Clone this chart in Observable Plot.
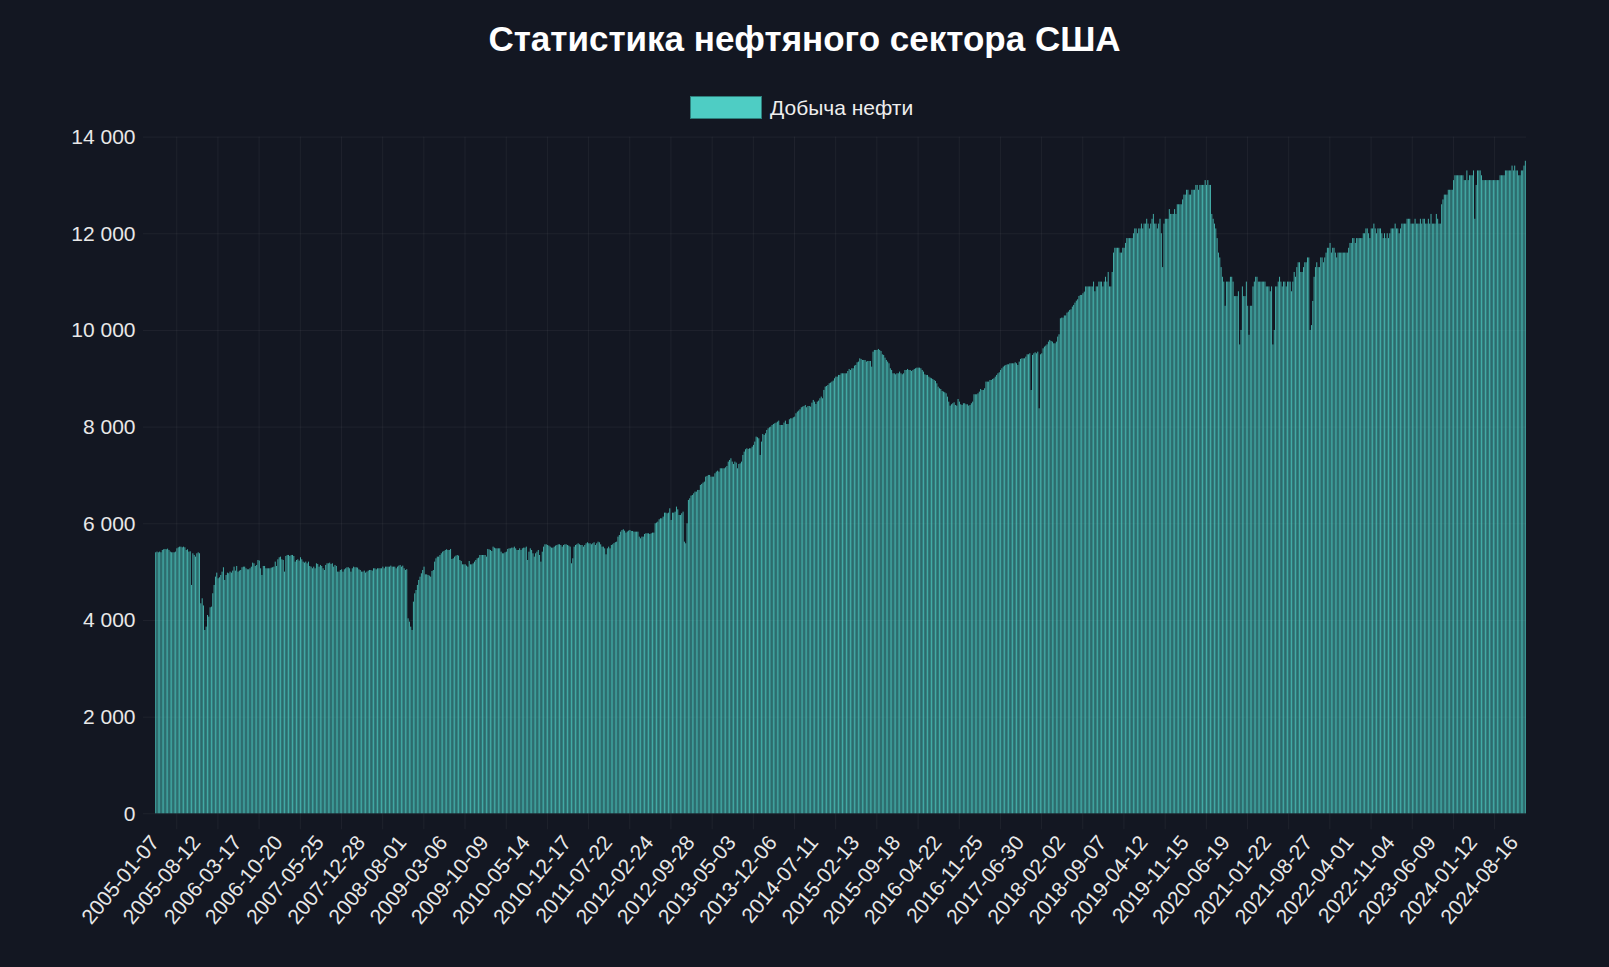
<!DOCTYPE html>
<html>
<head>
<meta charset="utf-8">
<script src="https://cdn.jsdelivr.net/npm/d3@7"></script>
<script src="https://cdn.jsdelivr.net/npm/@observablehq/plot@0.6"></script>
<style>
  html, body { margin: 0; padding: 0; background: #131722; }
  body { width: 1609px; height: 967px; overflow: hidden; font-family: "Liberation Sans", Arial, Helvetica, sans-serif; }
  #head { position: relative; height: 125px; }
  #title { position: absolute; left: 0; right: 0; top: 21px; text-align: center; font-size: 35px; line-height: 35px; font-weight: bold; color: #ffffff; }
  #legend { position: absolute; top: 96px; left: 690px; height: 23px; display: flex; align-items: center; }
  #legend .sw { width: 70px; height: 21px; background: #4ecdc4; border: 1px solid #2e7f7c; box-sizing: content-box; }
  #legend span { margin-left: 8px; font-size: 21px; color: #eeeeee; }
  #chart svg { display: block; }
</style>
</head>
<body>
<div id="head">
  <div id="title">Статистика нефтяного сектора США</div>
  <div id="legend"><div class="sw"></div><span>Добыча нефти</span></div>
</div>
<div id="chart"></div>
<script>
// Weekly US crude oil production (thousand barrels per day), weeks starting 2005-01-07
const startDate = "2005-01-07";
const seriesName = "Добыча нефти";

const prod2005 = [5400,5414,5400,5414,5400,5448,5462,5469,5462,5476,
5448,5414,5400,5400,5400,5414,5483,5503,5517,5517,
5503,5517,5503,5448,5462,5414,5420,4724,5379,5345,
5310,5379,5400,5380,4345,4448,4300,3793,3862,4103,
4069,4262,4276,4552,4724,4897,4979,4862,4883,4931,
5000,5090];
const prod2006 = [4828,4931,4979,4966,5000,4979,5021,5103,5021,5117,
5000,5021,5034,5090,5103,5103,5069,5048,5048,5069,
5103,5186,5172,5117,5138,5241,5228,5069,4931,5117,
5117,5069,5069,5069,5069,5083,5090,5103,5207,5117,
5255,5297,5310,5255,5241,5000,5324,5345,5345,5324,
5345,5345];
const prod2007 = [5324,5207,5241,5255,5228,5297,5255,5207,5186,5207,
5172,5207,5117,5103,5069,5103,5069,5172,5159,5103,
5138,5117,5069,5034,5138,5172,5172,5186,5159,5172,
5103,5138,5117,5000,5000,5034,5048,5000,5048,5069,
5090,5090,5069,5000,5069,5103,5090,5090,5083,5048,
5034,5000];
const prod2008 = [5000,5021,4979,5000,5021,5034,5034,5021,5069,5069,
5048,5069,5069,5069,5069,5103,5069,5103,5103,5103,
5103,5124,5103,5103,5103,5069,5103,5124,5138,5103,
5124,5069,5034,5050,4034,3965,3862,3793,4379,4551,
4620,4724,4827,4896,4965,5034,5103,4944,4944,4931,
4917,4896];
const prod2009 = [5013,5034,5207,5276,5310,5310,5344,5379,5413,5427,
5448,5462,5448,5448,5469,5262,5276,5310,5331,5344,
5331,5241,5220,5151,5151,5151,5124,5103,5220,5151,
5151,5172,5207,5241,5276,5289,5344,5344,5344,5344,
5344,5310,5469,5460,5448,5427,5517,5496,5482,5482,
5482,5482];
const prod2010 = [5413,5379,5379,5400,5413,5469,5482,5482,5496,5496,
5517,5482,5448,5448,5482,5448,5482,5496,5496,5517,
5241,5413,5482,5448,5379,5310,5379,5413,5448,5344,
5207,5413,5517,5565,5565,5551,5538,5517,5496,5496,
5517,5538,5551,5565,5565,5551,5517,5551,5565,5565,
5551,5538,5517];
const prod2011 = [5172,5276,5517,5551,5565,5586,5565,5551,5551,5517,
5551,5586,5607,5586,5586,5565,5586,5607,5551,5586,
5620,5607,5565,5517,5517,5482,5358,5482,5517,5482,
5551,5565,5590,5610,5620,5724,5758,5827,5860,5876,
5848,5807,5830,5848,5862,5841,5841,5827,5827,5827,
5827,5724];
const prod2012 = [5689,5724,5724,5779,5793,5793,5793,5779,5793,5807,
5807,6000,6014,6034,6083,6103,6103,6138,6220,6220,
6207,6220,6310,6069,6220,6220,6241,6345,6289,6172,
6172,6207,6241,5620,5586,6000,6483,6517,6572,6586,
6620,6655,6655,6690,6690,6793,6814,6841,6862,6965,
6979,7000];
const prod2013 = [7000,6965,6965,6965,7034,7069,7089,7069,7138,7138,
7138,7138,7158,7186,7276,7310,7345,7276,7227,7276,
7255,7138,7227,7241,7276,7414,7483,7531,7552,7538,
7552,7552,7586,7621,7690,7793,7779,7758,7414,7690,
7848,7827,7862,7931,7965,7986,8000,8034,8055,8069,
8083,8103];
const prod2014 = [8124,8034,8034,8034,8083,8124,8055,8055,8152,8172,
8172,8193,8207,8276,8310,8331,8359,8400,8414,8427,
8448,8400,8427,8427,8414,8496,8552,8517,8469,8517,
8538,8586,8621,8586,8759,8828,8841,8862,8897,8910,
8931,8952,9000,9034,9034,9069,9069,9103,9103,9103,
9103,9103];
const prod2015 = [9151,9193,9172,9207,9207,9262,9276,9331,9345,9413,
9400,9379,9379,9379,9345,9358,9358,9358,9241,9551,
9586,9586,9586,9607,9586,9565,9496,9483,9427,9379,
9345,9310,9207,9172,9103,9103,9082,9103,9103,9138,
9103,9082,9103,9172,9172,9193,9172,9172,9151,9172,
9193,9207];
const prod2016 = [9220,9220,9220,9207,9172,9138,9082,9069,9069,9034,
9013,9000,8986,8965,8945,8896,8827,8793,8779,8738,
8724,8710,8689,8620,8517,8434,8462,8483,8503,8448,
8434,8572,8517,8462,8448,8483,8483,8462,8462,8434,
8448,8483,8517,8669,8669,8669,8689,8724,8779,8758,
8758,8793,8931];
const prod2017 = [8931,8931,8965,8965,8986,9000,9034,9069,9103,9124,
9172,9207,9241,9262,9276,9289,9289,9310,9310,9310,
9310,9331,9310,9276,9345,9400,9413,9413,9413,9448,
9496,9496,9517,8758,9483,9517,9538,9517,9551,8379,
9496,9517,9620,9655,9676,9703,9758,9793,9772,9758,
9724,9724];
const prod2018 = [9758,9862,9910,10241,10255,10255,10300,10300,10358,10379,
10414,10427,10483,10517,10565,10606,10634,10703,10724,10724,
10758,10793,10900,10900,10900,10900,10900,10900,11000,10800,
10900,10900,11000,11000,11000,10900,11000,11100,11000,11200,
10900,10900,11200,11600,11700,11700,11700,11700,11600,11600,
11700,11700];
const prod2019 = [11800,11900,11900,11900,11900,11900,12000,12100,12100,12000,
12100,12100,12200,12100,12200,12200,12300,12200,12100,12200,
12300,12400,12200,12200,12100,12200,12300,12000,11300,12200,
12300,12300,12300,12500,12400,12400,12400,12500,12400,12600,
12600,12600,12600,12700,12800,12800,12900,12900,12800,12800,
12900,12900];
const prod2020 = [12900,13000,13000,12900,13000,13000,13000,13000,13100,13000,
13100,13000,13000,12400,12300,12200,12100,11900,11600,11500,
11300,11100,11000,10500,11000,11000,11000,11100,11100,11000,
10700,10700,10700,10800,9700,10000,10900,10700,10700,11000,
10500,9900,10500,10500,10900,11000,11100,11100,11000,11000,
11000,11000];
const prod2021 = [11000,11000,10900,10900,10900,10800,10900,9700,10000,10900,
10900,11000,11100,11000,10900,11000,11000,10900,11000,11000,
11000,10800,11000,11200,11100,11300,11400,11400,11200,11200,
11300,11400,11400,11500,11500,10000,10100,10600,11100,11300,
11400,11300,11300,11500,11500,11400,11500,11600,11700,11700,
11800,11600,11700];
const prod2022 = [11700,11600,11500,11600,11600,11600,11600,11600,11600,11600,
11600,11700,11800,11800,11900,11900,11800,11900,11900,11900,
11900,11900,12000,12000,12100,12100,12000,11900,12100,12100,
12200,12100,12000,12100,12100,12100,12000,11900,12000,11900,
12000,11900,12000,12100,12100,12100,12200,12100,12100,12000,
12100,12200];
const prod2023 = [12200,12200,12200,12300,12300,12300,12200,12200,12200,12300,
12200,12200,12200,12300,12200,12300,12300,12200,12200,12300,
12200,12400,12200,12200,12200,12400,12300,12200,12200,12600,
12700,12800,12800,12800,12900,12900,12900,12900,13100,13200,
13200,13200,13200,13200,13200,13200,13100,13100,13300,13100,
13200,13200];
const prod2024 = [13200,13300,12300,13000,13300,13300,13300,13200,13100,13100,
13100,13100,13100,13100,13100,13100,13100,13100,13100,13100,
13100,13200,13200,13200,13200,13300,13300,13300,13300,13300,
13400,13300,13400,13300,13300,13200,13200,13300,13300,13400,
13500];

const tickLabels = ["2005-01-07","2005-08-12","2006-03-17","2006-10-20","2007-05-25","2007-12-28",
"2008-08-01","2009-03-06","2009-10-09","2010-05-14","2010-12-17","2011-07-22","2012-02-24",
"2012-09-28","2013-05-03","2013-12-06","2014-07-11","2015-02-13","2015-09-18","2016-04-22",
"2016-11-25","2017-06-30","2018-02-02","2018-09-07","2019-04-12","2019-11-15","2020-06-19",
"2021-01-22","2021-08-27","2022-04-01","2022-11-04","2023-06-09","2024-01-12","2024-08-16"];
const yTicks = [0, 2000, 4000, 6000, 8000, 10000, 12000, 14000];

const values = [].concat(prod2005, prod2006, prod2007, prod2008, prod2009, prod2010, prod2011,
  prod2012, prod2013, prod2014, prod2015, prod2016, prod2017, prod2018, prod2019, prod2020,
  prod2021, prod2022, prod2023, prod2024);

const fmtDate = d3.utcFormat("%Y-%m-%d");
const start = d3.utcParse("%Y-%m-%d")(startDate);
const dates = values.map((_, i) => fmtDate(d3.utcDay.offset(start, 7 * i)));
const data = values.map((v, i) => ({date: dates[i], value: v}));

// vertical grid lines sit midway between labelled weeks
const gridDates = [];
for (let k = 0; k + 1 < tickLabels.length; k++) {
  const i0 = dates.indexOf(tickLabels[k]);
  const i1 = dates.indexOf(tickLabels[k + 1]);
  gridDates.push(dates[Math.round((i0 + i1 + 1) / 2)]);
}

const W = 1609, H = 842;
const mL = 155, mR = 83, mT = 11.6, mB = 153.7;
const step = (W - mL - mR) / dates.length;
const fmtY = d => d3.format(",")(d).replace(/,/g, " ");

const chart = Plot.plot({
  width: W,
  height: H,
  marginLeft: mL,
  marginRight: mR,
  marginTop: mT,
  marginBottom: mB,
  style: {background: "transparent", color: "#e8e8e8", fontFamily: "'Liberation Sans', Arial, Helvetica, sans-serif", fontSize: "20px", overflow: "visible"},
  x: {type: "band", domain: dates, paddingInner: 0.28, paddingOuter: 0.14, label: null},
  y: {domain: [0, 14000], label: null},
  marks: [
    Plot.ruleY(yTicks, {stroke: "#ffffff", strokeOpacity: 0.05, insetLeft: -12}),
    Plot.ruleX(gridDates, {stroke: "#ffffff", strokeOpacity: 0.05, dx: -step / 2, insetBottom: -16}),
    Plot.barY(data, {x: "date", y: "value", fill: "#4ecdc4", fillOpacity: 0.85}),
    Plot.axisY({ticks: yTicks, tickSize: 0, tickPadding: 20, tickFormat: fmtY, fontSize: 21, fill: "#e8e8e8", label: null}),
    Plot.axisX({ticks: tickLabels, tickSize: 0, tickPadding: 25, dx: -1, tickRotate: -50, fontSize: 21, fill: "#e8e8e8", label: null})
  ]
});
document.getElementById("chart").appendChild(chart);
</script>
</body>
</html>
